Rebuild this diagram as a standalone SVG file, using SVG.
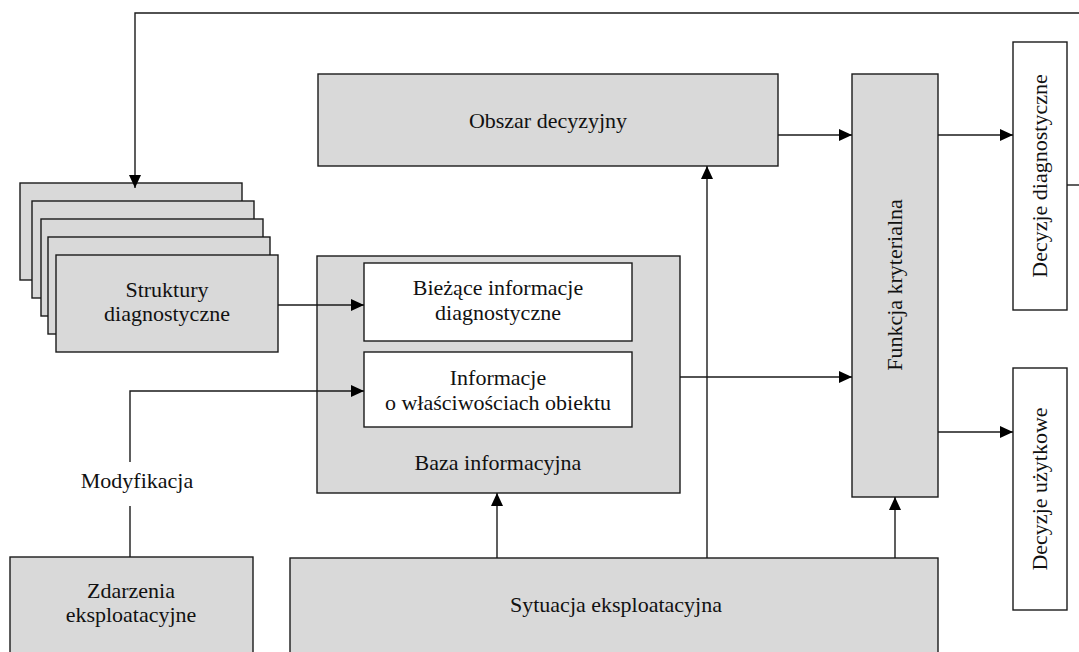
<svg xmlns="http://www.w3.org/2000/svg" width="1079" height="652" viewBox="0 0 1079 652">
<style>
.box{fill:#d9d9d9;stroke:#1a1a1a;stroke-width:1.4}
.wbox{fill:#ffffff;stroke:#1a1a1a;stroke-width:1.4}
.t{font-family:"Liberation Serif","Times New Roman",serif;font-size:22px;fill:#111;text-anchor:middle}
.c{fill:none;stroke:#1a1a1a;stroke-width:1.4}
</style>
<defs>
<marker id="ah" viewBox="0 0 13 12" refX="13" refY="6" markerWidth="13" markerHeight="12" markerUnits="userSpaceOnUse" orient="auto">
<path d="M0,0 L13,6 L0,12 Z" fill="#000"/>
</marker>
</defs>
<rect width="1079" height="652" fill="#fff"/>
<g id="struktury">
<rect class="box" x="20" y="183" width="222" height="97"/>
<rect class="box" x="32" y="201" width="222" height="97"/>
<rect class="box" x="41" y="219" width="222" height="97"/>
<rect class="box" x="48" y="237" width="222" height="97"/>
<rect class="box" x="56" y="255" width="222" height="97"/>
<text class="t" x="167" y="297">Struktury</text>
<text class="t" x="167" y="321">diagnostyczne</text>
</g>
<g id="obszar">
<rect class="box" x="318" y="74" width="460" height="92"/>
<text class="t" x="548" y="128">Obszar decyzyjny</text>
</g>
<g id="baza">
<rect class="box" x="317" y="256" width="363" height="237"/>
<text class="t" x="498" y="470">Baza informacyjna</text>
</g>
<g id="biezace">
<rect class="wbox" x="364" y="263" width="268" height="78"/>
<text class="t" x="498" y="295">Bieżące informacje</text>
<text class="t" x="498" y="320">diagnostyczne</text>
</g>
<g id="informacje">
<rect class="wbox" x="364" y="352" width="268" height="75"/>
<text class="t" x="498" y="385">Informacje</text>
<text class="t" x="498" y="410">o właściwościach obiektu</text>
</g>
<g id="funkcja">
<rect class="box" x="852" y="74" width="86" height="423"/>
<text class="t" transform="translate(902,285) rotate(-90)">Funkcja kryterialna</text>
</g>
<g id="decyzje-diag">
<rect class="wbox" x="1013" y="42" width="54" height="268"/>
<text class="t" transform="translate(1047,176) rotate(-90)">Decyzje diagnostyczne</text>
</g>
<g id="decyzje-uzyt">
<rect class="wbox" x="1013" y="368" width="54" height="242"/>
<text class="t" transform="translate(1047,489) rotate(-90)">Decyzje użytkowe</text>
</g>
<g id="zdarzenia">
<rect class="box" x="10" y="557" width="243" height="100"/>
<text class="t" x="131" y="598">Zdarzenia</text>
<text class="t" x="131" y="622">eksploatacyjne</text>
</g>
<g id="sytuacja">
<rect class="box" x="290" y="558" width="648" height="100"/>
<text class="t" x="616" y="612">Sytuacja eksploatacyjna</text>
</g>
<g id="modyfikacja-label">
<text class="t" x="137" y="488">Modyfikacja</text>
</g>
<g id="connectors">
<polyline class="c" points="1067,185 1079,185"/>
<polyline class="c" points="1079,13 135,13 135,188" marker-end="url(#ah)"/>
<line class="c" x1="278" y1="305" x2="364" y2="305" marker-end="url(#ah)"/>
<polyline class="c" points="130,462 130,391 364,391" marker-end="url(#ah)"/>
<line class="c" x1="130" y1="506" x2="130" y2="557"/>
<line class="c" x1="778" y1="135" x2="852" y2="135" marker-end="url(#ah)"/>
<line class="c" x1="680" y1="377" x2="852" y2="377" marker-end="url(#ah)"/>
<line class="c" x1="938" y1="135" x2="1013" y2="135" marker-end="url(#ah)"/>
<line class="c" x1="938" y1="432" x2="1013" y2="432" marker-end="url(#ah)"/>
<line class="c" x1="497" y1="558" x2="497" y2="493" marker-end="url(#ah)"/>
<line class="c" x1="707" y1="558" x2="707" y2="166" marker-end="url(#ah)"/>
<line class="c" x1="895" y1="558" x2="895" y2="497" marker-end="url(#ah)"/>
</g>
</svg>
